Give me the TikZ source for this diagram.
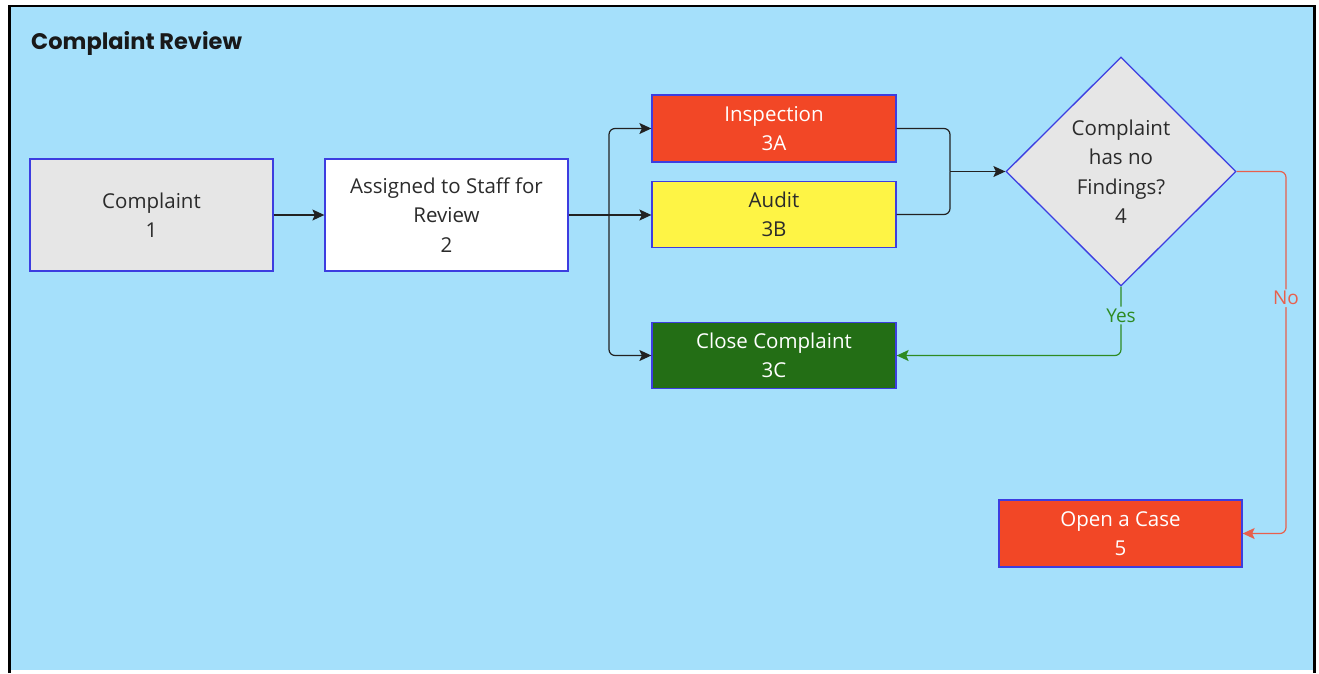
\documentclass[tikz,border=0pt]{standalone}
\usepackage{fontspec}
\setmainfont{Open Sans}
\newfontfamily\titlefont{Poppins}
\usetikzlibrary{shapes.geometric,arrows.meta}
\definecolor{bgblue}{HTML}{A5E0FB}
\definecolor{edgeblue}{HTML}{3D3DE0}
\definecolor{boxgray}{HTML}{E6E6E6}
\definecolor{boxred}{HTML}{F24726}
\definecolor{boxyellow}{HTML}{FEF445}
\definecolor{boxgreen}{HTML}{236E15}
\definecolor{txtdark}{HTML}{2B2B2B}
\definecolor{yesgreen}{HTML}{2E8B22}
\definecolor{nored}{HTML}{E8604C}
\definecolor{linedark}{HTML}{222222}
\begin{document}
\begin{tikzpicture}[x=1pt,y=-1pt,
  box/.style={draw=edgeblue,line width=1.3pt,rectangle,inner sep=0pt,align=center,
    text=txtdark,font=\fontsize{20.5}{29.5}\selectfont},
  bigbox/.style={box,minimum width=243pt,minimum height=112pt},
  smallbox/.style={box,minimum width=244pt,minimum height=66pt},
  decision/.style={box,diamond,aspect=1,minimum width=230pt,minimum height=229pt,fill=boxgray},
  conn/.style={draw=linedark,line width=1.2pt,rounded corners=6pt},
  arr/.style={-{Stealth[length=12pt,width=11pt,inset=2.5pt]}},
  lbl/.style={fill=bgblue,inner sep=2pt,font=\fontsize{19}{21}\selectfont}
]
\useasboundingbox (0,0) rectangle (1319,673);
\fill[white] (0,0) rectangle (1319,673);
\fill[bgblue] (10,7) rectangle (1314,670);
\draw[black,line width=2.6pt] (9.3,673) -- (9.3,5.8) -- (1314.7,5.8) -- (1314.7,673);

\node[anchor=base west,font=\titlefont\bfseries\fontsize{22.5}{25}\selectfont,text=black!90,inner sep=0pt] (title) at (31,49) {Complaint Review};

\node[bigbox,fill=boxgray] (n1) at (151.5,215) {Complaint\\1};
\node[bigbox,fill=white] (n2) at (446.5,215) {Assigned to Staff for\\Review\\2};
\node[smallbox,fill=boxred,text=white,minimum height=67pt] (n3a) at (774,128.5) {Inspection\\3A};
\node[smallbox,fill=boxyellow] (n3b) at (774,214.5) {Audit\\3B};
\node[smallbox,fill=boxgreen,text=white] (n3c) at (774,355.5) {Close Complaint\\3C};
\node[decision] (n4) at (1121,171.5) {Complaint\\has no\\Findings?\\4};
\node[box,fill=boxred,text=white,minimum width=243pt,minimum height=67pt] (n5) at (1120.5,533.5) {Open a Case\\5};

\coordinate (sp) at (609,215);
\coordinate (mg) at (950,171.5);
\coordinate (nr) at (1286,171.5);

\draw[conn,arr] (n1.east) -- (n2.east -| n2.west);
\draw[conn] (n2.east) -- (sp);
\draw[conn,arr] (sp) |- (n3a.west);
\draw[conn,arr] (sp) -- (sp -| n3b.west);
\draw[conn,arr] (sp) |- (n3c.west);

\draw[conn] (n3a.east) -| (mg);
\draw[conn] (n3b.east) -| (mg);
\draw[conn,arr] (mg) -- (n4.west);

\draw[conn,arr,draw=yesgreen] (n4.south) |- node[lbl,pos=0.21,text=yesgreen] {Yes} (n3c.east);
\draw[conn,arr,draw=nored] (n4.east) -- (nr) |- node[lbl,pos=0.175,text=nored] {No} (n5.east);
\end{tikzpicture}
\end{document}
